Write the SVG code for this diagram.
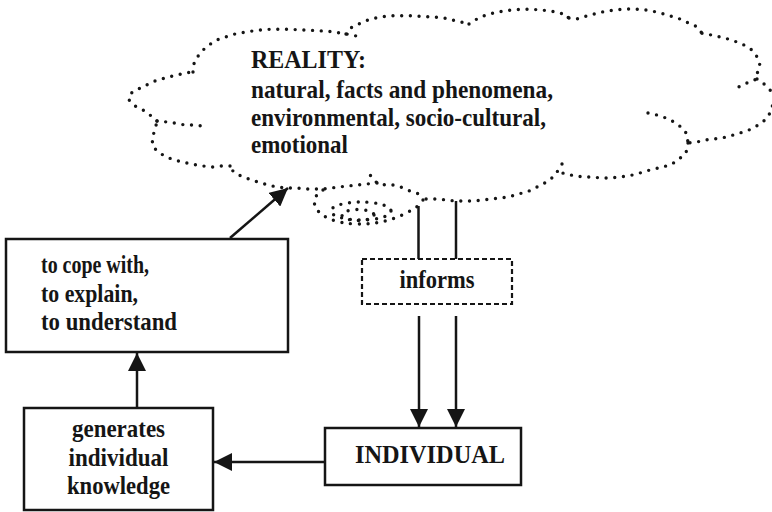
<svg xmlns="http://www.w3.org/2000/svg" width="772" height="512" viewBox="0 0 772 512">
  <style>
    .lbl { font-family: "Liberation Serif", "Times New Roman", serif; font-weight: bold; fill: #151515; font-size: 25px; }
    .box { fill: #fff; stroke: #151515; stroke-width: 2.5; }
    .dash { fill: #fff; stroke: #151515; stroke-width: 2.2; stroke-dasharray: 5 3; }
    .dots { fill: none; stroke: #151515; stroke-width: 3.4; stroke-linecap: round; stroke-dasharray: 0 8.7; }
    .link { fill: none; stroke: #151515; stroke-width: 2.5; }
  </style>
  <defs>
    <marker id="ah" viewBox="0 0 18 18" refX="18" refY="9" markerWidth="18" markerHeight="18" orient="auto" markerUnits="userSpaceOnUse">
      <path d="M0,0 L18,9 L0,18 z" fill="#151515"/>
    </marker>
  </defs>

  <rect width="772" height="512" fill="#fff"/>

  <!-- Reality: dotted cloud with its thought bubbles -->
  <g id="reality">
    <g class="dots">
      <path d="M157,121 L150,115 L143,110 L135,106 L129,100 L130,94 L136,90 L143,87 L152,82 L160,79.5 L168,77 L177,75 L185,73 L193,72"/>
      <path d="M193,72 L193,66 L196.5,58 L203,50 L210.5,44 L219,39 L227,36.5 L235,34 L243,32.5 L252.5,31 L261,30 L270,29.3 L287,29.3 L305,30 L323,31 L333,31.7 L342,33.3 L353,35 L363,38.3"/>
      <path d="M346,34 L350,28.3 L358,24.3 L366,20.7 L374,18.3 L383,16.7 L393,15.7 L410,15.7 L427,16.7 L437,17.3 L446,18.3 L455,20.7 L464,22.7 L468.5,24.3"/>
      <path d="M469,24 L472,22 L479,17.7 L488,14.3 L497,12.3 L505,10.7 L514,9.7 L523,9.3 L532,9.3 L541,10 L550,11 L559,12.7 L568,15.7 L569,24"/>
      <path d="M569,18 L576,19.3 L584,16.7 L593,14.3 L602,12 L611,10.5 L619,9.5 L628,9 L637,9.3 L646,10 L655,11.7 L664,14 L673,16.7 L681,19.3 L689,23.3 L697,26.7 L702,33.3 L704,39"/>
      <path d="M702,33.3 L710,34.7 L719,36.7 L727,38.7 L736,41.7 L744,45 L752,50 L757,56.7 L760,65.3 L757,74 L757,79 L749,82 L741,86 L733,89.3"/>
      <path d="M757,79 L764,84 L771,91 L775,99 L772,107 L769,115 L763,122 L755,127 L747,131 L738,133.5 L730,136 L722,138 L713,139 L705,140 L697,142 L688,143"/>
      <path d="M648,113 L657,115 L666,118 L674,122 L681,127 L687,134 L688,143"/>
      <path d="M688,143 L686,153 L679,159 L672,164 L663,167 L654,169 L646,171 L637,174 L628,176 L619,177 L610,178 L601,178 L592,177 L583,177 L573,175.5 L565,173.5 L557,172"/>
      <path d="M562,164 L557,172 L551,179 L543,184 L535,188 L527,192 L518,194 L509,197 L500,198 L491,199 L482,200 L473,201 L464,201 L455,201 L447,200 L437,199 L428,199 L422,199"/>
      <path d="M423,200 L419,194 L410,191 L402,187.5 L393,185 L385,185 L377,183 L370,175"/>
      <path d="M377,183 L367,184 L357,185 L348,186 L339,187 L331,188 L323,189 L315,189 L307,189 L297,188 L287,188 L277,187 L268,185 L260,182.7 L252,180 L243,177 L235,173 L229,167"/>
      <path d="M230,166 L222,166 L212,167 L203,166 L193,164.3 L185,162.7 L177,160.7 L168,157.7 L160,153.3 L153,147 L152,138 L155,130 L157,121"/>
      <path d="M157,121 L167,122 L176,123.3 L185,125 L194,125 L203,126"/>
      <!-- thought bubbles -->
      <path d="M323,190 C305,200 315,222 355,224 C385,225 405,215 418,206"/>
      <ellipse cx="361" cy="211" rx="30" ry="9"/>
      <ellipse cx="358" cy="215" rx="16" ry="5.5"/>
    </g>
    <text class="lbl" x="251" y="68" textLength="115" lengthAdjust="spacingAndGlyphs">REALITY:</text>
    <text class="lbl" x="251" y="98" textLength="302" lengthAdjust="spacingAndGlyphs">natural, facts and phenomena,</text>
    <text class="lbl" x="251" y="126" textLength="295" lengthAdjust="spacingAndGlyphs">environmental, socio-cultural,</text>
    <text class="lbl" x="251" y="153" textLength="97" lengthAdjust="spacingAndGlyphs">emotional</text>
  </g>

  <g id="cope">
    <rect class="box" x="6" y="239" width="282" height="113"/>
    <text class="lbl" x="41" y="273" textLength="108" lengthAdjust="spacingAndGlyphs">to cope with,</text>
    <text class="lbl" x="41" y="302" textLength="97" lengthAdjust="spacingAndGlyphs">to explain,</text>
    <text class="lbl" x="41" y="330" textLength="136" lengthAdjust="spacingAndGlyphs">to understand</text>
  </g>

  <g id="informs">
    <rect class="dash" x="362" y="259" width="150" height="45"/>
    <text class="lbl" x="437" y="288" text-anchor="middle" textLength="75" lengthAdjust="spacingAndGlyphs">informs</text>
  </g>

  <g id="generates">
    <rect class="box" x="24" y="408" width="189" height="102"/>
    <text class="lbl" x="118.5" y="437" text-anchor="middle" textLength="93" lengthAdjust="spacingAndGlyphs">generates</text>
    <text class="lbl" x="118.5" y="466" text-anchor="middle" textLength="100" lengthAdjust="spacingAndGlyphs">individual</text>
    <text class="lbl" x="118.5" y="494" text-anchor="middle" textLength="103" lengthAdjust="spacingAndGlyphs">knowledge</text>
  </g>

  <g id="individual">
    <rect class="box" x="325" y="428" width="196" height="57"/>
    <text class="lbl" x="430" y="463" text-anchor="middle" textLength="150" lengthAdjust="spacingAndGlyphs">INDIVIDUAL</text>
  </g>

  <g id="connectors" class="link">
    <path d="M418.5,206 L418.5,259"/>
    <path d="M456,201 L456,259"/>
    <path d="M419,316 L419,427" marker-end="url(#ah)"/>
    <path d="M456,316 L456,427" marker-end="url(#ah)"/>
    <path d="M325,462 L214,462" marker-end="url(#ah)"/>
    <path d="M137,408 L137,353" marker-end="url(#ah)"/>
    <path d="M230,238 L288,188" marker-end="url(#ah)"/>
  </g>
</svg>
